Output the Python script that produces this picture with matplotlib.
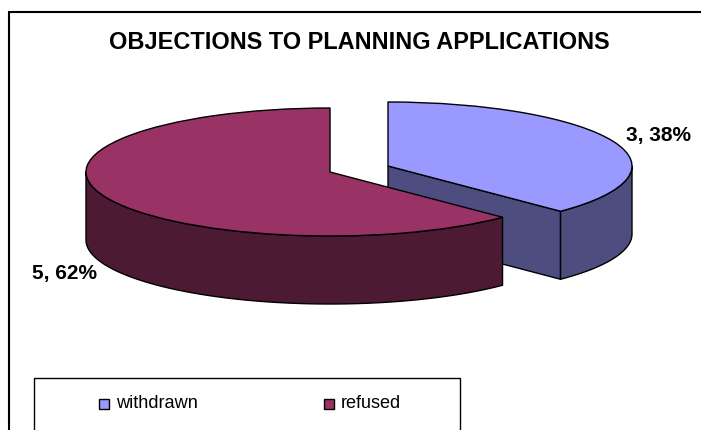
import numpy as np
import matplotlib
matplotlib.use("Agg")
import matplotlib.pyplot as plt
from matplotlib.patches import Wedge, Polygon, Rectangle
from matplotlib.transforms import Affine2D

plt.rcParams["font.family"] = ["Liberation Sans", "DejaVu Sans"]

title = "OBJECTIONS TO PLANNING APPLICATIONS"
categories = ["withdrawn", "refused"]
values = [3, 5]
labels = ["3, 38%", "5, 62%"]
top_colors = ["#9999ff", "#993366"]
side_colors = ["#4d4d80", "#4d1a33"]

W, H = 701, 430
RX, RY, DEPTH = 244, 64, 68
centers = [(388, 166), (330, 172)]

fig = plt.figure(figsize=(W / 100, H / 100), dpi=100)
ax = fig.add_axes([0, 0, 1, 1])
ax.set_xlim(0, W)
ax.set_ylim(H, 0)
ax.axis("off")

# outer chart frame
ax.add_patch(Rectangle((8.5, 12), W, H, fc="white", ec="black", lw=1.5))

# clockwise angle from 12 o'clock where each slice starts/ends
total = sum(values)
ends = np.cumsum(values) / total * 360
starts = np.concatenate([[0], ends[:-1]])


def pt(cx, cy, a):
    r = np.radians(a)
    return cx + RX * np.sin(r), cy - RY * np.cos(r)


def draw_slice(i):
    cx, cy = centers[i]
    a0, a1 = starts[i], ends[i]
    lw = 1.0

    # cut face seen from the front, only the first slice shows one
    if i == 0:
        ex, ey = pt(cx, cy, a1)
        face = [(cx, cy), (ex, ey), (ex, ey + DEPTH), (cx, cy + DEPTH)]
        ax.add_patch(Polygon(face, closed=True, fc=side_colors[i], ec="black", lw=lw, joinstyle="round"))

    # rim is only visible on the lower half of the ellipse (90..270 deg)
    v0, v1 = max(a0, 90), min(a1, 270)
    a = np.linspace(v0, v1, 80)
    xs, ys = pt(cx, cy, a)
    rim = list(zip(xs, ys)) + list(zip(xs[::-1], ys[::-1] + DEPTH))
    ax.add_patch(Polygon(rim, closed=True, fc=side_colors[i], ec="black", lw=lw, joinstyle="round"))

    # top surface: unit wedge squashed to the ellipse
    tr = Affine2D().scale(RX, -RY).translate(cx, cy) + ax.transData
    ax.add_patch(Wedge((0, 0), 1, 90 - a1, 90 - a0, fc=top_colors[i], ec="black", lw=lw, transform=tr, joinstyle="round"))


draw_slice(0)
draw_slice(1)

ax.text(359, 42.5, title, ha="center", va="center", fontsize=16.9, fontweight="bold")
ax.text(658, 135.5, labels[0], ha="center", va="center", fontsize=15, fontweight="bold")
ax.text(64.5, 273.5, labels[1], ha="center", va="center", fontsize=15, fontweight="bold")

# legend box, runs off the bottom of the picture
ax.add_patch(Rectangle((33.5, 378), 426.5, 80, fc="white", ec="black", lw=1.0))
legend_x = [99, 324]
for x, c, name in zip(legend_x, top_colors, categories):
    ax.add_patch(Rectangle((x, 398.5), 10, 10, fc=c, ec="black", lw=1.0))
    ax.text(x + 17, 404, name, ha="left", va="center", fontsize=13.1)

fig.savefig("out.png", dpi=100)
